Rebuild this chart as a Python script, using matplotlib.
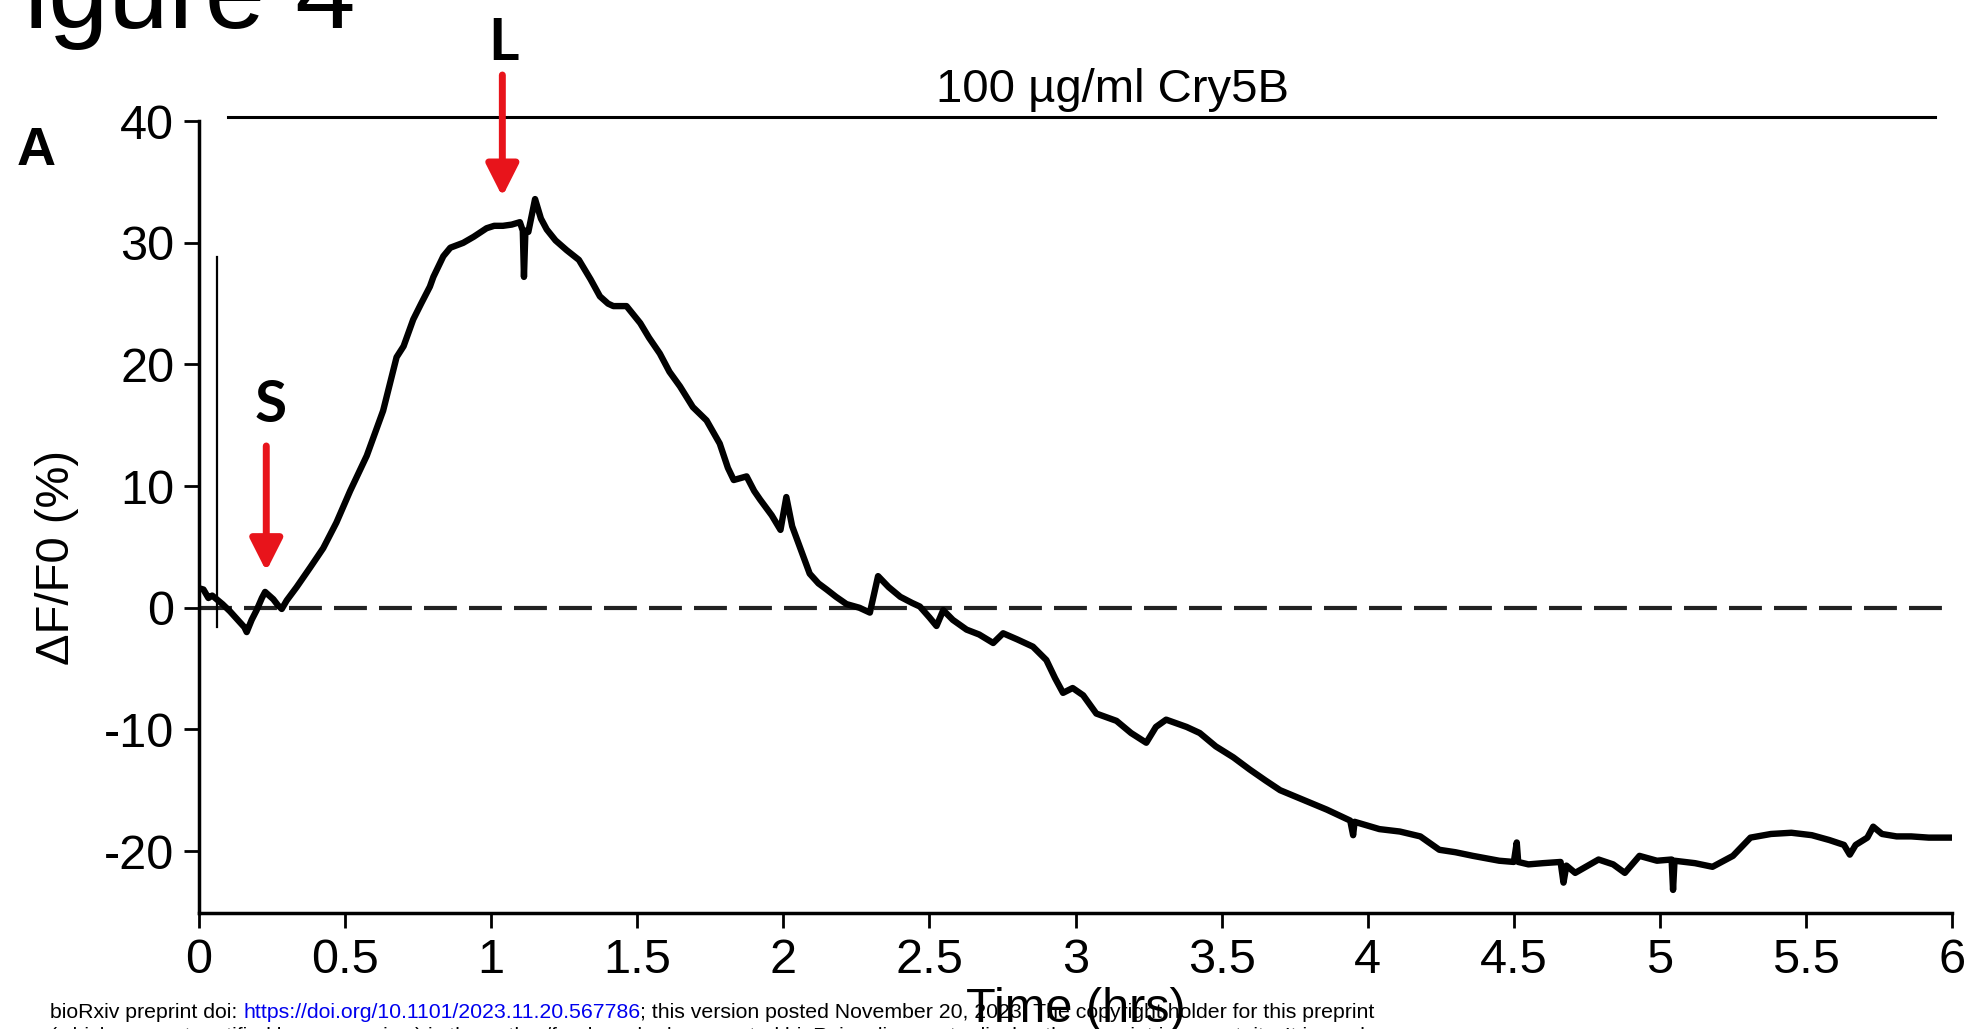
import matplotlib.pyplot as plt

plt.rcParams['font.family'] = ['Liberation Sans', 'DejaVu Sans']
plt.rcParams['axes.unicode_minus'] = False

# calcium trace: time (hrs) vs dF/F0 (%)
time_hrs = [
    0.000, 0.015, 0.032, 0.045, 0.060, 0.080, 0.106, 0.125, 0.140, 0.155,
    0.163, 0.180, 0.197, 0.215, 0.226, 0.240, 0.254, 0.270, 0.283, 0.300,
    0.334, 0.380, 0.425, 0.470, 0.517, 0.574, 0.630, 0.676, 0.700, 0.733,
    0.760, 0.790, 0.802, 0.836, 0.860, 0.904, 0.940, 0.984, 1.010, 1.040,
    1.070, 1.098, 1.108, 1.112, 1.117, 1.127, 1.150, 1.170, 1.190, 1.220,
    1.258, 1.300, 1.340, 1.372, 1.400, 1.418, 1.463, 1.510, 1.540, 1.577,
    1.610, 1.646, 1.690, 1.737, 1.782, 1.810, 1.830, 1.874, 1.900, 1.920,
    1.960, 1.990, 2.010, 2.030, 2.056, 2.090, 2.120, 2.148, 2.180, 2.216,
    2.260, 2.296, 2.324, 2.360, 2.400, 2.440, 2.467, 2.500, 2.524, 2.547,
    2.580, 2.627, 2.670, 2.718, 2.752, 2.800, 2.854, 2.900, 2.930, 2.957,
    2.990, 3.026, 3.071, 3.140, 3.190, 3.242, 3.275, 3.310, 3.380, 3.425,
    3.480, 3.540, 3.596, 3.650, 3.700, 3.780, 3.860, 3.940, 3.950, 3.955,
    4.040, 4.110, 4.180, 4.245, 4.300, 4.360, 4.450, 4.500, 4.510, 4.515,
    4.550, 4.600, 4.660, 4.670, 4.680, 4.710, 4.790, 4.840, 4.880, 4.930,
    4.990, 5.040, 5.045, 5.050, 5.120, 5.180, 5.250, 5.310, 5.380, 5.450,
    5.520, 5.580, 5.630, 5.650, 5.670, 5.710, 5.730, 5.760, 5.810, 5.860,
    5.920, 6.000,
]
dff_pct = [
    1.6, 1.5, 0.8, 1.0, 0.7, 0.3, -0.3, -0.8, -1.2, -1.6,
    -2.0, -1.0, -0.2, 0.8, 1.3, 1.0, 0.7, 0.2, -0.1, 0.6,
    1.7, 3.3, 4.9, 7.0, 9.6, 12.5, 16.2, 20.6, 21.5, 23.7,
    25.0, 26.4, 27.2, 28.9, 29.6, 30.0, 30.5, 31.2, 31.4, 31.4,
    31.5, 31.7, 31.0, 27.2, 31.0, 30.9, 33.6, 32.0, 31.1, 30.2,
    29.4, 28.6, 27.0, 25.6, 25.0, 24.8, 24.8, 23.4, 22.2, 20.9,
    19.4, 18.2, 16.5, 15.4, 13.5, 11.5, 10.5, 10.8, 9.6, 8.9,
    7.6, 6.4, 9.1, 6.7, 5.0, 2.8, 2.0, 1.5, 0.9, 0.3,
    0.0, -0.4, 2.6, 1.7, 0.9, 0.4, 0.1, -0.8, -1.5, -0.2,
    -1.0, -1.8, -2.2, -2.9, -2.1, -2.6, -3.2, -4.3, -5.8, -7.0,
    -6.6, -7.2, -8.7, -9.3, -10.3, -11.1, -9.8, -9.2, -9.8, -10.3,
    -11.4, -12.3, -13.3, -14.2, -15.0, -15.8, -16.6, -17.5, -18.7, -17.6,
    -18.2, -18.4, -18.8, -19.9, -20.1, -20.4, -20.8, -20.9, -19.3, -20.9,
    -21.1, -21.0, -20.9, -22.6, -21.2, -21.8, -20.7, -21.1, -21.8, -20.4,
    -20.8, -20.7, -23.2, -20.8, -21.0, -21.3, -20.4, -18.9, -18.6, -18.5,
    -18.7, -19.1, -19.5, -20.3, -19.5, -18.9, -18.0, -18.6, -18.8, -18.8,
    -18.9, -18.9,
]

xticks = [0, 0.5, 1, 1.5, 2, 2.5, 3, 3.5, 4, 4.5, 5, 5.5, 6]
xtick_labels = ['0', '0.5', '1', '1.5', '2', '2.5', '3', '3.5', '4', '4.5', '5', '5.5', '6']
yticks = [-20, -10, 0, 10, 20, 30, 40]

# treatment bar (hrs, %) and its label
cry5b_span = (0.0975, 5.94)
cry5b_level = 40.37
cry5b_label = '100 µg/ml Cry5B'

# perfusion artefact (thin vertical line)
artifact_x = 0.062
artifact_span = (-1.6, 28.8)

# event arrows: label -> (time, arrow tip, arrow tail)
events = {
    'S': (0.23, 3.0, 13.3),
    'L': (1.038, 33.8, 43.8),
}

red = '#e8141b'

fig = plt.figure(figsize=(19.71, 10.29), dpi=100)
ax = fig.add_axes([0.101, 0.1127, 0.8894, 0.7695])

ax.plot(time_hrs, dff_pct, color='black', lw=4.6, solid_joinstyle='round')
ax.axhline(0, color='#222222', lw=3, linestyle=(0, (7.9, 2.9)), zorder=1)
ax.plot([artifact_x, artifact_x], artifact_span, color='black', lw=1.6)

# Cry5B application bar
ax.plot(cry5b_span, [cry5b_level, cry5b_level], color='black', lw=2.2, clip_on=False)
ax.text(3.125, 41.6, cry5b_label, ha='center', va='baseline', fontsize=34)

for name, (t, tip, tail) in events.items():
    ax.annotate('', xy=(t, tip), xytext=(t, tail),
                arrowprops=dict(arrowstyle='-|>,head_length=0.97,head_width=0.49',
                                mutation_scale=20, color=red, lw=5,
                                shrinkA=0, shrinkB=0),
                annotation_clip=False)
ax.text(0.245, 16.6, 'S', ha='center', va='center', fontsize=42,
        fontweight='bold', family='Lato')
ax.text(1.043, 46.4, 'L', ha='center', va='center', fontsize=42,
        fontweight='bold', family='Lato')

ax.set_xlim(0, 6)
ax.set_ylim(-25.1, 40)
ax.set_xticks(xticks)
ax.set_xticklabels(xtick_labels)
ax.set_yticks(yticks)
ax.spines[['top', 'right']].set_visible(False)
ax.spines[['left', 'bottom']].set_linewidth(2.5)
ax.tick_params(direction='out', length=10.8, width=2, labelsize=35, pad=7)

ax.set_xlabel('Time (hrs)', fontsize=35)
ax.xaxis.label.set_va('baseline')
ax.xaxis.set_label_coords(0.5, -0.1377)
ax.set_ylabel('ΔF/F0 (%)', fontsize=34)
ax.yaxis.label.set_va('center')
ax.yaxis.set_label_coords(-0.081, 0.4496)

fig.text(36 / 1971, 1 - 151 / 1029, 'A', ha='center', va='center',
         fontsize=39, fontweight='bold')
fig.text(355 / 1971, 1 - 28 / 1029, 'Figure 4', ha='right', va='baseline',
         fontsize=78)

# preprint footer, link part in blue
renderer = fig.canvas.get_renderer()
footer = [
    ('bioRxiv preprint doi: ', 'black'),
    ('https://doi.org/10.1101/2023.11.20.567786', '#0000ee'),
    ('; this version posted November 20, 2023. The copyright holder for this preprint', 'black'),
]
x_px = 50
for piece, col in footer:
    t = fig.text(x_px / 1971, 1 - 1018 / 1029, piece, color=col, fontsize=15.3,
                 ha='left', va='baseline')
    x_px += t.get_window_extent(renderer).width
fig.text(50 / 1971, 1 - 1042 / 1029,
         '(which was not certified by peer review) is the author/funder, who has granted '
         'bioRxiv a license to display the preprint in perpetuity. It is made',
         fontsize=15.3, ha='left', va='baseline')

fig.savefig('out.png', dpi=100)
